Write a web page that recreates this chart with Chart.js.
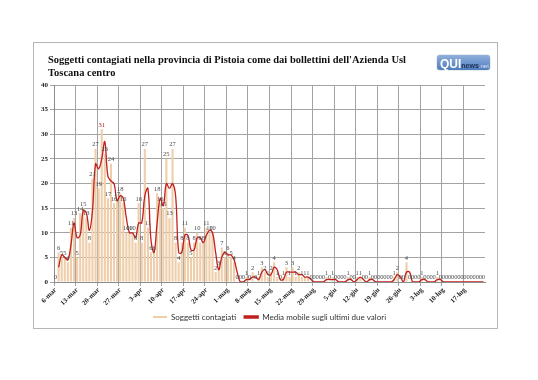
<!DOCTYPE html>
<html><head><meta charset="utf-8">
<script src="https://cdn.jsdelivr.net/npm/chart.js@4.4.1/dist/chart.umd.min.js"></script>
<style>
html,body{margin:0;padding:0;background:#fff;}
#wrap{position:relative;width:538px;height:380px;overflow:hidden;background:#fff;}
#frame{position:absolute;left:33px;top:42px;width:465px;height:287px;border:1px solid #b5b5b5;box-sizing:border-box;}
#title{position:absolute;left:48px;top:53px;font:bold 10.5px "Liberation Serif",serif;line-height:13px;color:#111;white-space:nowrap;}
#logo{position:absolute;left:437px;top:55px;width:53px;height:15px;border-radius:3px;background:linear-gradient(#8fb0dc,#4f7dbd);box-shadow:0 0 1px #345;font-family:"Liberation Sans",sans-serif;white-space:nowrap;line-height:15px;}
#logo .q{color:#fff;font-weight:bold;font-size:12px;margin-left:3px;}
#logo .n{color:#1d2f55;font-size:7px;font-weight:bold;}
#logo .t{color:#dfe8f6;font-size:6px;}
canvas{position:absolute;left:0;top:0;}
</style></head>
<body><div id="wrap">
<div id="frame"></div>
<canvas id="c" width="538" height="380"></canvas>
<div id="title">Soggetti contagiati nella provincia di Pistoia come dai bollettini dell'Azienda Usl<br>Toscana centro</div>
<div id="logo"><span class="q">QUI</span><span class="n">news</span><span class="t">.net</span></div>
</div>
<script>
const categories = [
"6-mar","7-mar","8-mar","9-mar","10-mar","11-mar","12-mar","13-mar","14-mar","15-mar","16-mar","17-mar","18-mar","19-mar","20-mar","21-mar","22-mar","23-mar","24-mar","25-mar","26-mar","27-mar","28-mar","29-mar","30-mar","31-mar",
"1-apr","2-apr","3-apr","4-apr","5-apr","6-apr","7-apr","8-apr","9-apr","10-apr","11-apr","12-apr","13-apr","14-apr","15-apr","16-apr","17-apr","18-apr","19-apr","20-apr","21-apr","22-apr","23-apr","24-apr","25-apr","26-apr","27-apr","28-apr","29-apr","30-apr",
"1-mag","2-mag","3-mag","4-mag","5-mag","6-mag","7-mag","8-mag","9-mag","10-mag","11-mag","12-mag","13-mag","14-mag","15-mag","16-mag","17-mag","18-mag","19-mag","20-mag","21-mag","22-mag","23-mag","24-mag","25-mag","26-mag","27-mag","28-mag","29-mag","30-mag","31-mag",
"1-giu","2-giu","3-giu","4-giu","5-giu","6-giu","7-giu","8-giu","9-giu","10-giu","11-giu","12-giu","13-giu","14-giu","15-giu","16-giu","17-giu","18-giu","19-giu","20-giu","21-giu","22-giu","23-giu","24-giu","25-giu","26-giu","27-giu","28-giu","29-giu","30-giu",
"1-lug","2-lug","3-lug","4-lug","5-lug","6-lug","7-lug","8-lug","9-lug","10-lug","11-lug","12-lug","13-lug","14-lug","15-lug","16-lug","17-lug","18-lug","19-lug","20-lug","21-lug","22-lug","23-lug"];

const tickLabels = ["6-mar","13-mar","20-mar","27-mar","3-apr","10-apr","17-apr","24-apr","1-mag","8-mag","15-mag","22-mag","29-mag","5-giu","12-giu","19-giu","26-giu","3-lug","10-lug","17-lug"];

const contagiati = [
0,6,5,5,4,11,13,5,14,15,13,8,21,27,19,31,26,17,24,16,17,18,16,10,10,10,
8,16,8,27,11,6,6,18,16,15,25,13,27,8,4,8,11,8,5,8,10,8,8,11,10,10,2,3,7,5,
6,5,4,0,0,0,1,0,2,0,1,3,2,1,2,4,1,0,1,3,1,3,1,2,1,1,1,0,0,0,0,
0,1,0,1,0,0,0,0,1,0,0,1,1,0,0,1,0,0,0,0,0,0,0,1,2,0,0,4,0,0,0,0,
1,0,0,0,0,1,0,0,0,0,0,0,0,0,0,0,0,0,0,0,0,0,1];

const mediaMobile = [
null,3,5.5,5,4.5,7.5,12,9,9.5,14.5,14,10.5,14.5,24,23,25,28.5,21.5,20.5,20,16.5,17.5,17,13,10,10,
9,12,12,17.5,19,8.5,6,12,17,15.5,20,19,20,17.5,6,6,9.5,9.5,6.5,6.5,9,9,8,9.5,10.5,10,6,2.5,5,6,
5.5,5.5,4.5,2,0,0,0.5,0.5,1,1,0.5,2,2.5,1.5,1.5,3,2.5,0.5,0.5,2,2,2,2,1.5,1.5,1,1,0.5,0,0,0,
0,0.5,0.5,0.5,0.5,0,0,0,0.5,0.5,0,0.5,1,0.5,0,0.5,0.5,0,0,0,0,0,0,0.5,1.5,1,0,2,2,0,0,0,
0.5,0.5,0,0,0,0.5,0.5,0,0,0,0,0,0,0,0,0,0,0,0,0,0,0,0.5];

const yTicks = [0,5,10,15,20,25,30,35,40];

const gridGray = '#a3a3a3';

const barLabels = {
  id: 'barLabels',
  afterDatasetsDraw(chart) {
    const meta = chart.getDatasetMeta(1);
    const ctx = chart.ctx;
    ctx.save();
    ctx.font = '6.5px "Liberation Serif", serif';
    ctx.textAlign = 'center';
    ctx.textBaseline = 'bottom';
    meta.data.forEach((el, i) => {
      const v = contagiati[i];
      ctx.fillStyle = (v === 31) ? '#b01818' : '#4a4a4a';
      ctx.fillText(String(v), el.x, el.y - 1);
    });
    ctx.restore();
  }
};

new Chart(document.getElementById('c'), {
  type: 'bar',
  data: {
    labels: categories,
    datasets: [
      {
        type: 'line',
        label: 'Media mobile sugli ultimi due valori',
        data: mediaMobile,
        borderColor: '#c0201f',
        backgroundColor: '#c0201f',
        borderWidth: 1.3,
        pointRadius: 0,
        tension: 0.4,
        spanGaps: false
      },
      {
        type: 'bar',
        label: 'Soggetti contagiati',
        data: contagiati,
        backgroundColor: '#efcfab',
        borderWidth: 0,
        barPercentage: 0.7,
        categoryPercentage: 1.0
      }
    ]
  },
  options: {
    responsive: false,
    animation: false,
    devicePixelRatio: 1,
    layout: { padding: { left: 33, right: 53, top: 85, bottom: 49 } },
    plugins: {
      title: { display: false },
      tooltip: { enabled: false },
      legend: {
        position: 'bottom',
        fullSize: false,
        labels: {
          boxWidth: 14,
          boxHeight: 2,
          padding: 8,
          color: '#333',
          font: { family: 'Lato, "Open Sans", sans-serif', size: 8 },
          sort: (a, b) => b.datasetIndex - a.datasetIndex
        }
      }
    },
    scales: {
      x: {
        type: 'category',
        offset: true,
        grid: {
          offset: true,
          color: c => (c.index % 7 === 0) ? gridGray : 'rgba(0,0,0,0)',
          lineWidth: 1,
          tickLength: 4
        },
        border: { color: '#8c8c8c' },
        ticks: {
          autoSkip: false,
          maxRotation: 45,
          minRotation: 45,
          padding: 0,
          color: '#222',
          font: { family: '"Liberation Serif", serif', size: 7, weight: 'bold' },
          callback: (v, i) => (i % 7 === 0) ? tickLabels[i / 7] : ''
        },
        afterFit: s => { s.height = 23; }
      },
      y: {
        min: 0,
        max: 40,
        afterBuildTicks: s => { s.ticks = yTicks.map(v => ({ value: v })); },
        grid: { color: gridGray, tickLength: 4 },
        border: { color: '#8c8c8c' },
        ticks: {
          padding: 2,
          color: '#222',
          font: { family: '"Liberation Serif", serif', size: 7, weight: 'bold' }
        },
        afterFit: s => { s.width = 21; }
      }
    }
  },
  plugins: [barLabels]
});
</script>
</body></html>
